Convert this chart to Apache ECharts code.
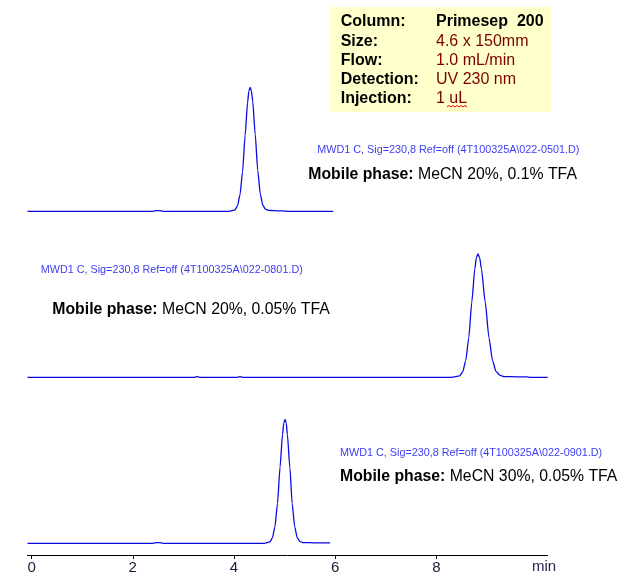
<!DOCTYPE html>
<html><head><meta charset="utf-8">
<script src="https://cdn.jsdelivr.net/npm/echarts@6/dist/echarts.min.js"></script>
<style>html,body{margin:0;padding:0;background:#fff}#c{width:637px;height:581px}</style>
</head><body><div id="c"></div>
<script>
// ---- data ----
const xTickValues = [0, 2, 4, 6, 8];
const xUnit = 'min';

const topTime   = [-0.08, 2.40, 2.47, 2.53, 2.60, 3.90, 4.02, 4.07, 4.12, 4.17, 4.22, 4.27, 4.295, 4.32, 4.345, 4.37, 4.42, 4.47, 4.52, 4.57, 4.62, 4.68, 4.80, 4.95, 5.10, 5.96];
const topSignal = [0, 0, 0.6, 0.6, 0, 0, 1.1, 4.4, 13.5, 32, 61, 88, 97, 100, 97, 89, 62, 33, 14, 5, 1.8, 0.8, 0.5, 0.3, 0, 0];

const midTime   = [-0.08, 3.22, 3.27, 3.32, 4.07, 4.12, 4.17, 8.30, 8.46, 8.52, 8.58, 8.64, 8.70, 8.76, 8.79, 8.82, 8.855, 8.89, 8.965, 9.04, 9.11, 9.18, 9.26, 9.35, 9.60, 9.80, 9.85, 10.20];
const midSignal = [0, 0, 0.5, 0, 0, 0.5, 0, 0, 1.1, 4.4, 13.5, 32, 61, 88, 97, 100, 97, 88, 61, 32, 13.5, 4.6, 1.5, 0.6, 0.4, 0.3, 0, 0];

const botTime   = [-0.08, 2.40, 2.47, 2.53, 2.60, 4.60, 4.71, 4.76, 4.81, 4.86, 4.91, 4.96, 4.985, 5.01, 5.033, 5.055, 5.105, 5.15, 5.20, 5.25, 5.30, 5.36, 5.60, 5.90];
const botSignal = [0, 0, 0.6, 0.6, 0, 0, 1.1, 4.4, 13.5, 32, 61, 88, 97, 100, 97, 88, 61, 32, 13.5, 4.6, 1.5, 0.6, 0.4, 0.3];

const infoLabels = ['Column:', 'Size:', 'Flow:', 'Detection:', 'Injection:'];
const infoValues = ['Primesep  200', '4.6 x 150mm', '1.0 mL/min', 'UV 230 nm', '1 uL'];
const mwdLabels = [
  'MWD1 C, Sig=230,8 Ref=off (4T100325A\\022-0501.D)',
  'MWD1 C, Sig=230,8 Ref=off (4T100325A\\022-0801.D)',
  'MWD1 C, Sig=230,8 Ref=off (4T100325A\\022-0901.D)'
];
const phaseLabels = ['MeCN 20%, 0.1% TFA', 'MeCN 20%, 0.05% TFA', 'MeCN 30%, 0.05% TFA'];

// ---- chart ----
const FONT = '"Liberation Sans", Arial, sans-serif';
const traces = [[topTime, topSignal], [midTime, midSignal], [botTime, botSignal]];
const zip = (t, s) => t.map((v, i) => [v, s[i]]);

const gridTops = [87.3, 254, 419.3];
const gridHeights = [124, 123.3, 124];

const grid = gridTops.map((t, i) => ({ left: 27.5, right: 89.3, top: t, height: gridHeights[i] }));
const xAxis = gridTops.map((t, i) => ({
  type: 'value', gridIndex: i, min: -0.08, max: 10.2, show: i === 2,
  offset: i === 2 ? 11.7 : 0,
  axisLine: { onZero: false, lineStyle: { color: '#000', width: 1 } },
  axisTick: { customValues: xTickValues, length: 4, lineStyle: { color: '#000' } },
  axisLabel: { customValues: xTickValues, margin: 5, color: '#1a1a3a', fontSize: 15,
    fontFamily: '"Liberation Sans Narrow", "Liberation Sans", Arial, sans-serif' },
  splitLine: { show: false }
}));
const yAxis = gridTops.map((t, i) => ({ type: 'value', gridIndex: i, min: 0, max: 100, show: false }));

const series = traces.map((tr, i) => ({
  type: 'line', xAxisIndex: i, yAxisIndex: i, data: zip(tr[0], tr[1]),
  symbol: 'none', clip: false, smooth: 0.2, smoothMonotone: 'x',
  lineStyle: { color: '#0a0ae6', width: 1.3 }
}));

const graphic = [];
graphic.push({ type: 'rect', shape: { x: 330, y: 7, width: 221, height: 105 }, style: { fill: '#FFFFCC' }, z: 1 });
const rowY = [22, 41.7, 61, 80, 99];
infoLabels.forEach((l, i) => {
  graphic.push({ type: 'text', x: 340.7, y: rowY[i], z: 2,
    style: { text: l, fill: '#000', font: 'bold 16px ' + FONT, verticalAlign: 'middle', align: 'left' } });
  graphic.push({ type: 'text', x: 436, y: rowY[i], z: 2,
    style: { text: infoValues[i], fill: i === 0 ? '#000' : '#7a0000',
      font: (i === 0 ? 'bold ' : '') + '16px ' + FONT, verticalAlign: 'middle', align: 'left' } });
});
// spell-check squiggle under "uL"
graphic.push({ type: 'polyline', z: 3, shape: { points: [[447,107],[449,105.5],[451,107],[453,105.5],[455,107],[457,105.5],[459,107],[461,105.5],[463,107],[465,105.5],[467,107]] },
  style: { stroke: '#e00000', lineWidth: 1, fill: null } });

const mwdPos = [[317.3, 150], [40.7, 270], [340, 453.3]];
const phasePos = [[308.3, 175], [52.3, 310], [340, 477]];
mwdLabels.forEach((l, i) => {
  graphic.push({ type: 'text', x: mwdPos[i][0], y: mwdPos[i][1], z: 2,
    style: { text: l, fill: '#3d3df5', font: '10.8px ' + FONT, verticalAlign: 'middle', align: 'left' } });
  graphic.push({ type: 'text', x: phasePos[i][0], y: phasePos[i][1], z: 2,
    style: { text: '{b|Mobile phase:} ' + phaseLabels[i], fill: '#000', font: '15.8px ' + FONT,
      fontSize: 15.8, fontFamily: FONT, verticalAlign: 'middle', align: 'left',
      rich: { b: { fontWeight: 'bold', fontSize: 15.8, fontFamily: FONT, fill: '#000' } } } });
});
graphic.push({ type: 'text', x: 544, y: 567, z: 2,
  style: { text: xUnit, fill: '#2a1a4a', font: '15px "Liberation Sans Narrow", "Liberation Sans", Arial, sans-serif', verticalAlign: 'middle', align: 'center' } });

const chart = echarts.init(document.getElementById('c'), null, { renderer: 'canvas' });
chart.setOption({ animation: false, backgroundColor: '#fff', grid, xAxis, yAxis, series, graphic });
</script>
</body></html>
